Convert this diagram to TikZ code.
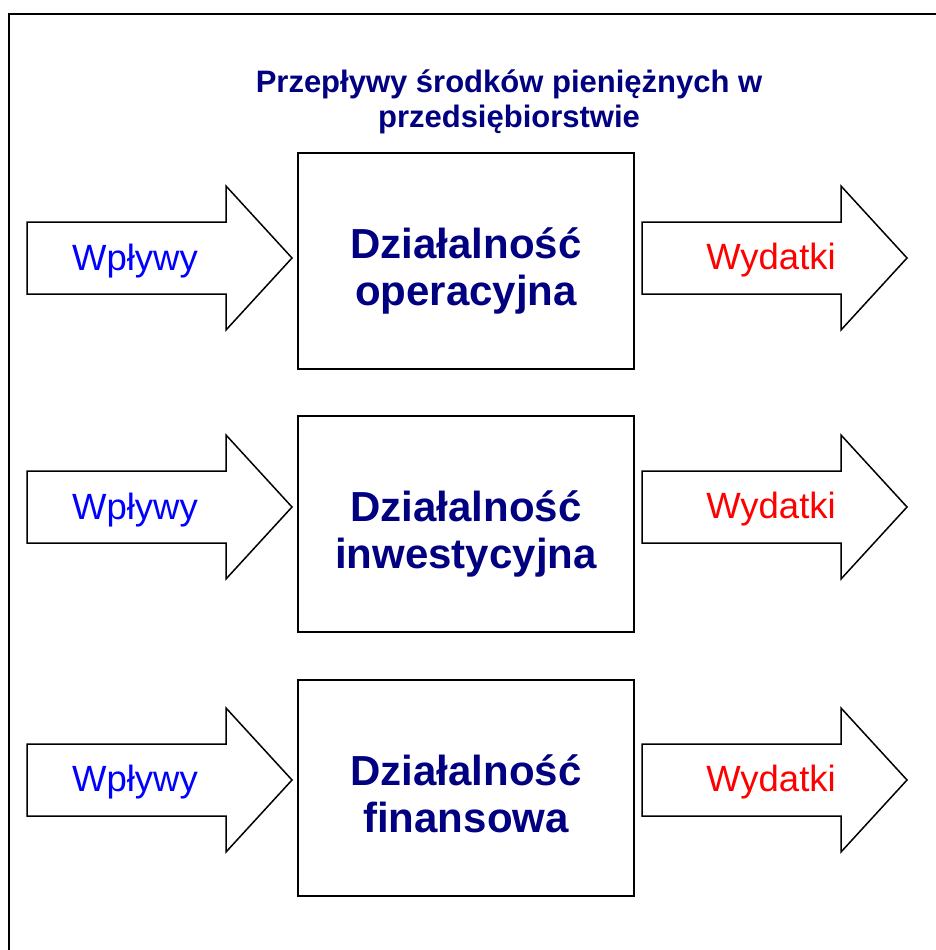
\documentclass[tikz,border=0pt]{standalone}
\usepackage{fontspec}
\setmainfont{Liberation Sans}
\usetikzlibrary{positioning}
\definecolor{granat}{RGB}{0,0,128}
\definecolor{niebieski}{RGB}{0,0,255}
\definecolor{czerwony}{RGB}{255,0,0}
% block arrow: #1 = left end of the shaft, #2 = middle height
\newcommand{\strzalka}[2]{%
  \draw[linia] (#1,#2-36) -- ++(199,0) -- ++(0,-36) -- ++(66,72) -- ++(-66,72)
    -- ++(0,-36) -- ++(-199,0) -- cycle;}
\tikzset{
  linia/.style={line width=1.5pt, line join=miter},
  blok/.style={draw, linia, minimum width=336pt, minimum height=216pt,
    inner sep=0pt},
  napis/.style={anchor=base, align=center, text=granat, inner sep=0pt,
    font=\fontsize{42}{47}\selectfont\bfseries},
  wplyw/.style={anchor=base, text=niebieski, inner sep=0pt,
    font=\fontsize{36.5}{40}\selectfont},
  wydatek/.style={anchor=base, text=czerwony, inner sep=0pt,
    font=\fontsize{36.5}{40}\selectfont}
}
\begin{document}
\begin{tikzpicture}[x=1pt,y=-1pt]
  \useasboundingbox (0,0) rectangle (936,950);
  % ramka
  \draw[line width=1.3pt] (9,950) -- (9,14) -- (936,14);

  \node[anchor=base, align=center, text=granat, inner sep=0pt,
        font=\fontsize{31}{35}\selectfont\bfseries] (tytul) at (509,127)
        {Przepływy środków pieniężnych w\\przedsiębiorstwie};

  \node[blok] (op)  at (466,261) {};
  \node[blok] (inw) at (466,524) {};
  \node[blok] (fin) at (466,788) {};
  \node[napis] (op-t)  at ([yshift=-44pt]op.center)  {Działalność\\operacyjna};
  \node[napis] (inw-t) at ([yshift=-44pt]inw.center) {Działalność\\inwestycyjna};
  \node[napis] (fin-t) at ([yshift=-44pt]fin.center) {Działalność\\finansowa};

  \strzalka{27}{258}
  \strzalka{27}{507}
  \strzalka{27}{780}
  \strzalka{642}{258}
  \strzalka{642}{507}
  \strzalka{642}{780}

  \node[wplyw] (wp1) at (135,270) {Wpływy};
  \node[wplyw] (wp2) at (135,519) {Wpływy};
  \node[wplyw] (wp3) at (135,791) {Wpływy};
  \node[wydatek] (wy1) at (771,269) {Wydatki};
  \node[wydatek] (wy2) at (771,518) {Wydatki};
  \node[wydatek] (wy3) at (771,791) {Wydatki};
\end{tikzpicture}
\end{document}
